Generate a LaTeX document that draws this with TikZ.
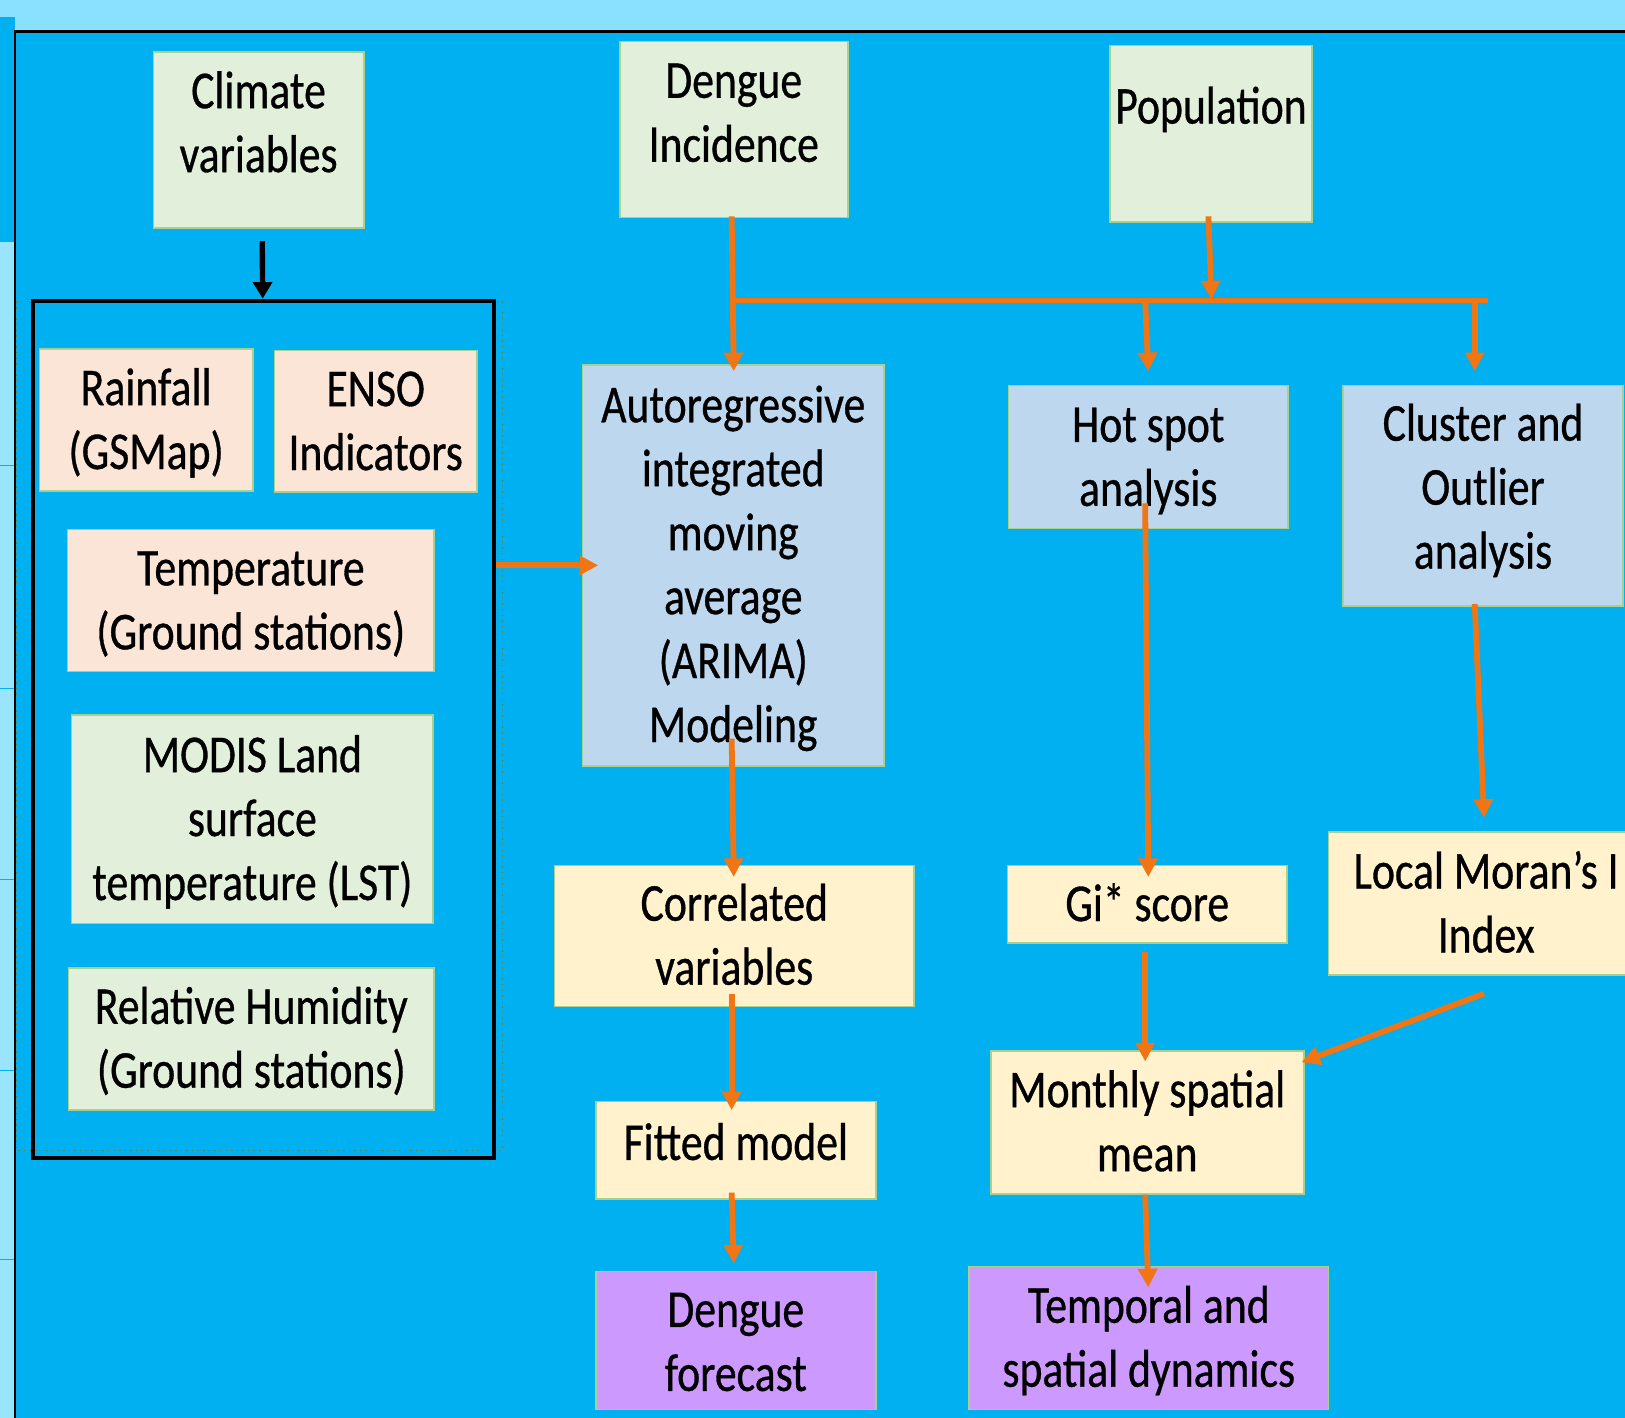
\documentclass[tikz,border=0pt]{standalone}
\usepackage{fontspec}
\setmainfont{Carlito}[FakeStretch=0.82,FakeBold=0.6]
\usetikzlibrary{arrows.meta,calc}
\definecolor{bgblue}{RGB}{0,176,240}
\definecolor{topblue}{RGB}{137,224,255}
\definecolor{stripblue}{RGB}{153,228,255}
\definecolor{gfill}{RGB}{226,239,218}
\definecolor{pfill}{RGB}{251,229,214}
\definecolor{bfill}{RGB}{189,215,238}
\definecolor{yfill}{RGB}{255,242,204}
\definecolor{vfill}{RGB}{204,153,255}
\definecolor{edgegreen}{RGB}{169,209,142}
\definecolor{orng}{RGB}{240,117,20}
\definecolor{olivedot}{RGB}{100,130,60}
\newcommand\hsA{\rule{0pt}{25pt}}
\newcommand\hsB[1][8.76pt]{\rule[-#1]{0pt}{#1}}
\begin{document}
\begin{tikzpicture}[x=0.5pt,y=-0.5pt,
 box/.style={draw=edgegreen, line width=0.75pt, inner sep=0pt, align=center,
   font=\fontsize{25.7pt}{30.85pt}\selectfont, text=black},
 gbox/.style={box, fill=gfill},
 pbox/.style={box, fill=pfill},
 bbox/.style={box, fill=bfill},
 ybox/.style={box, fill=yfill},
 vbox/.style={box, fill=vfill},
 oarr/.style={draw=orng, line width=2.8pt, -{Triangle[width=9pt,length=9pt]}},
 oline/.style={draw=orng, line width=2.8pt},
 barr/.style={draw=black, line width=2.6pt, -{Triangle[width=9pt,length=8pt]}},
 ]
\useasboundingbox (0,0) rectangle (1568,1368);
\clip (0,0) rectangle (1568,1368);
% background
\fill[bgblue] (0,0) rectangle (1568,1368);
\fill[topblue] (0,0) rectangle (1568,30);
\fill[bgblue] (0,16.5) rectangle (14,233.5);
\fill[stripblue] (0,233.5) rectangle (14,1368);
\foreach \yy in {449,664,849,1033,1215} \draw[bgblue, line width=0.6pt] (0,\yy) -- (14,\yy);
\draw[black, line width=1.2pt] (14.5,1368) -- (14.5,30.5) -- (1568,30.5);
\draw[olivedot, dotted, line width=0.7pt] (16,291) rectangle (485,1110);

% group box
\node[draw=black, line width=2pt, minimum width=222.5pt, minimum height=413.75pt, inner sep=0pt] (grp) at (254.5,704) {};

% top nodes
\node[gbox, minimum width=101.5pt, minimum height=85pt] (clim) at (249.5,135) {\hsA Climate\\variables\hsB[24.76pt]};
\node[gbox, minimum width=110pt, minimum height=85pt] (deng) at (708,125) {\hsA Dengue\\Incidence\hsB[24.76pt]};
\node[gbox, minimum width=97.5pt, minimum height=85pt] (pop) at (1168.5,129) {\hsA Population\hsB[34.76pt]};

% climate group
\node[pbox, minimum width=103pt, minimum height=68.5pt] (rain) at (141,405.5) {\hsA Rainfall\\(GSMap)\hsB};
\node[pbox, minimum width=97.5pt, minimum height=68.5pt] (enso) at (362.5,406.5) {\hsA ENSO\\Indicators\hsB};
\node[pbox, minimum width=177pt, minimum height=68.5pt] (temp) at (242,579.5) {\hsA Temperature\\(Ground stations)\hsB};
\node[gbox, minimum width=174.5pt, minimum height=100.5pt] (modis) at (243.5,790.5) {\hsA MODIS Land\\surface\\temperature (LST)\hsB};
\node[gbox, minimum width=176.5pt, minimum height=68.5pt] (rh) at (242.5,1002.5) {\hsA Relative Humidity\\(Ground stations)\hsB};

% analysis
\node[bbox, minimum width=145.5pt, minimum height=193.5pt] (arima) at (707.5,545.5) {\hsA Autoregressive\\integrated\\moving\\average\\(ARIMA)\\Modeling\hsB};
\node[bbox, minimum width=135pt, minimum height=69pt] (hot) at (1108,441) {\hsA Hot spot\\analysis\hsB};
\node[bbox, minimum width=135pt, minimum height=106.5pt] (clus) at (1431,478.5) {\hsA Cluster and\\Outlier\\analysis\hsB[16.56pt]};

\node[ybox, minimum width=173.5pt, minimum height=68pt] (corr) at (708.5,903) {\hsA Correlated\\variables\hsB};
\node[ybox, minimum width=135pt, minimum height=47pt] (fit) at (710,1110) {\hsA Fitted model\hsB[15.76pt]};
\node[vbox, minimum width=135pt, minimum height=66.5pt] (fore) at (710,1293.5) {\hsA Dengue\\forecast\hsB[7.26pt]};

\node[ybox, minimum width=135pt, minimum height=37.5pt] (gi) at (1107,872.5) {\hsA Gi* score\hsB};
\node[ybox, minimum width=152pt, minimum height=69pt] (moran) at (1434,872) {\hsA Local Moran’s I\\Index\hsB};
\node[ybox, minimum width=151pt, minimum height=69pt] (month) at (1107,1083) {\hsA Monthly spatial\\mean\hsB};
\node[vbox, minimum width=173.5pt, minimum height=69pt] (tsd) at (1108.5,1291) {\hsA Temporal and\\spatial dynamics\hsB};

% connectors
\draw[barr] ($(clim.south)+(3.5,12)$) -- ($(grp.north)+(-1,0)$);
\draw[oarr] (grp.east |- arima.west) -- ($(arima.west)+(16,0)$);

\coordinate (b1) at (706,290);
\coordinate (b2) at (1436,290);
\coordinate (bp) at (1169,289);
\coordinate (hb) at (1105,290);
\coordinate (cb) at (1423,290);

\draw[oarr] ($(deng.south)+(-2,-2)$) -- ($(arima.north)+(0.5,7)$);
\draw[oline] (b1) -- (b2);
\draw[oarr] ($(pop.south)+(-2.5,-6)$) -- (bp);
\draw[oarr] (hb) -- ($(hot.north)+(0,-13)$);
\draw[oarr] (cb) -- ($(clus.north)+(-8,-13)$);
\draw[oarr] ($(hot.south)+(-3,-25)$) -- ($(gi.north)+(1,12)$);
\draw[oarr] ($(clus.south)+(-8,-3)$) -- ($(moran.north)+(-2,-13)$);
\draw[oarr] ($(arima.south)+(-1.5,-27)$) -- ($(corr.north)+(-0.5,12)$);
\draw[oarr] ($(corr.south)+(-2.5,-13)$) -- ($(fit.north)+(-4,9)$);
\draw[oarr] ($(fit.south)+(-4,-7)$) -- ($(fore.north)+(-2,-7)$);
\draw[oarr] ($(gi.south)+(-2,8)$) -- ($(month.north)+(-2,11)$);
\draw[oarr] ($(moran.south)+(-2,17)$) -- ($(month.east)+(-3,-58)$);
\draw[oarr] ($(month.south)+(-2,0)$) -- ($(tsd.north)+(-0.5,21)$);
\end{tikzpicture}
\end{document}
